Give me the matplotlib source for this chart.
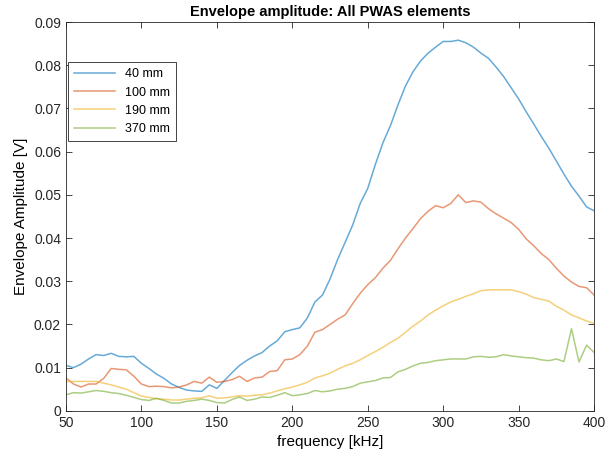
import numpy as np
import matplotlib
matplotlib.use('Agg')
import matplotlib.pyplot as plt
from matplotlib import ticker

plt.rcParams['font.family'] = ['Liberation Sans', 'DejaVu Sans']

freq = np.arange(50, 401, 5)

# 40 mm
amp_40 = [0.0105, 0.0100, 0.0108, 0.0120, 0.0130, 0.0128, 0.0133, 0.0126, 0.0125, 0.0126,
          0.0110, 0.0098, 0.0085, 0.0075, 0.0062, 0.0054, 0.0048, 0.0046, 0.0045, 0.0060,
          0.0052, 0.0070, 0.0088, 0.0105, 0.0117, 0.0127, 0.0135, 0.0150, 0.0162, 0.0183,
          0.0188, 0.0192, 0.0215, 0.0252, 0.0268, 0.0305, 0.0350, 0.0390, 0.0430, 0.0480,
          0.0515, 0.0570, 0.0620, 0.0660, 0.0708, 0.0752, 0.0785, 0.0810, 0.0828, 0.0842,
          0.0855, 0.0855, 0.0858, 0.0852, 0.0842, 0.0828, 0.0816, 0.0796, 0.0774, 0.0748,
          0.0722, 0.0692, 0.0664, 0.0635, 0.0608, 0.0578, 0.0548, 0.0520, 0.0497, 0.0472,
          0.0463]
# 100 mm
amp_100 = [0.0076, 0.0062, 0.0055, 0.0062, 0.0062, 0.0075, 0.0098, 0.0096, 0.0095, 0.0080,
           0.0062, 0.0056, 0.0057, 0.0056, 0.0053, 0.0055, 0.0060, 0.0068, 0.0064, 0.0078,
           0.0066, 0.0068, 0.0072, 0.0080, 0.0068, 0.0076, 0.0078, 0.0091, 0.0093, 0.0118,
           0.0120, 0.0130, 0.0150, 0.0182, 0.0188, 0.0200, 0.0212, 0.0222, 0.0248, 0.0272,
           0.0292, 0.0308, 0.0330, 0.0348, 0.0375, 0.0400, 0.0422, 0.0445, 0.0462, 0.0475,
           0.0470, 0.0480, 0.0500, 0.0482, 0.0486, 0.0483, 0.0468, 0.0456, 0.0446, 0.0436,
           0.0420, 0.0398, 0.0382, 0.0364, 0.0350, 0.0330, 0.0312, 0.0298, 0.0288, 0.0285,
           0.0268]
# 190 mm
amp_190 = [0.0068, 0.0068, 0.0068, 0.0068, 0.0068, 0.0064, 0.0060, 0.0055, 0.0050, 0.0042,
           0.0034, 0.0031, 0.0028, 0.0027, 0.0025, 0.0025, 0.0027, 0.0029, 0.0030, 0.0035,
           0.0029, 0.0030, 0.0032, 0.0035, 0.0034, 0.0036, 0.0037, 0.0041, 0.0046, 0.0051,
           0.0055, 0.0060, 0.0066, 0.0076, 0.0081, 0.0087, 0.0096, 0.0104, 0.0110, 0.0118,
           0.0128, 0.0137, 0.0147, 0.0158, 0.0168, 0.0182, 0.0196, 0.0208, 0.0222, 0.0233,
           0.0243, 0.0252, 0.0258, 0.0265, 0.0271, 0.0278, 0.0280, 0.0280, 0.0280, 0.0280,
           0.0276, 0.0270, 0.0262, 0.0258, 0.0254, 0.0242, 0.0233, 0.0222, 0.0215, 0.0208,
           0.0202]
# 370 mm
amp_370 = [0.0037, 0.0042, 0.0041, 0.0044, 0.0047, 0.0045, 0.0042, 0.0040, 0.0036, 0.0031,
           0.0026, 0.0024, 0.0029, 0.0024, 0.0018, 0.0018, 0.0022, 0.0024, 0.0027, 0.0024,
           0.0019, 0.0018, 0.0026, 0.0032, 0.0024, 0.0027, 0.0032, 0.0031, 0.0036, 0.0042,
           0.0035, 0.0037, 0.0040, 0.0047, 0.0044, 0.0046, 0.0050, 0.0052, 0.0056, 0.0064,
           0.0067, 0.0070, 0.0076, 0.0077, 0.0090, 0.0096, 0.0104, 0.0110, 0.0112, 0.0116,
           0.0118, 0.0120, 0.0120, 0.0120, 0.0125, 0.0126, 0.0124, 0.0125, 0.0130, 0.0127,
           0.0125, 0.0123, 0.0122, 0.0118, 0.0116, 0.0120, 0.0114, 0.0190, 0.0113, 0.0152,
           0.0135]

labels = ['40 mm', '100 mm', '190 mm', '370 mm']
colors = ['#0072BD', '#D95319', '#EDB120', '#77AC30']

fig = plt.figure(figsize=(6.05, 4.59), dpi=100)
ax = fig.add_axes([0.109, 0.105, 0.873, 0.847])

for y, lab, c in zip([amp_40, amp_100, amp_190, amp_370], labels, colors):
    ax.plot(freq, y, color=c, lw=1.1, alpha=0.6, label=lab)

ax.set_xlim(50, 400)
ax.set_ylim(0, 0.09)
ax.set_xticks(np.arange(50, 401, 50))
ax.set_yticks(np.arange(0, 0.091, 0.01))
ax.yaxis.set_major_formatter(ticker.FuncFormatter(lambda v, p: '%g' % round(v, 3)))
ax.tick_params(direction='in', top=True, right=True, labelsize=10, colors='#262626', length=4, width=0.6)
for s in ax.spines.values():
    s.set_color('#262626')
    s.set_linewidth(0.6)

ax.set_title('Envelope amplitude: All PWAS elements', fontsize=10.5, fontweight='bold', pad=4)
ax.set_xlabel('frequency [kHz]', fontsize=11)
ax.set_ylabel('Envelope Amplitude [V]', fontsize=11)

leg = ax.legend(loc='upper left', bbox_to_anchor=(0.003, 0.897), borderaxespad=0.0, fontsize=9,
                handlelength=3.3, fancybox=False, edgecolor='#262626', framealpha=1,
                borderpad=0.5, labelspacing=0.5)
leg.get_frame().set_linewidth(0.6)

fig.savefig('out.png', dpi=100)
